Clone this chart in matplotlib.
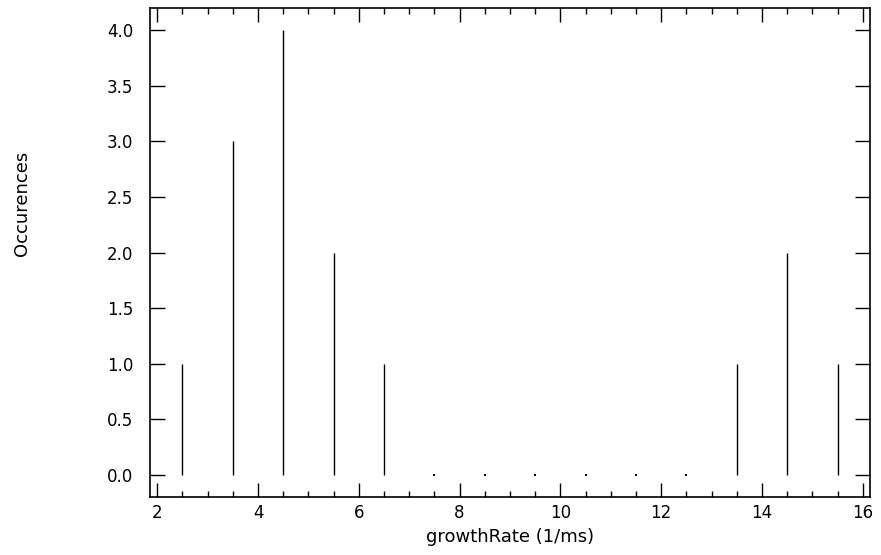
import numpy as np
import matplotlib
matplotlib.use("Agg")
import matplotlib.pyplot as plt
from matplotlib.ticker import MultipleLocator, FormatStrFormatter

# histogram of growth rates (bin centres and counts)
bin_centres = [2.5, 3.5, 4.5, 5.5, 6.5, 7.5, 8.5, 9.5, 10.5, 11.5, 12.5, 13.5, 14.5, 15.5]
counts = [1, 3, 4, 2, 1, 0, 0, 0, 0, 0, 0, 1, 2, 1]

plt.rcParams['font.family'] = ['DejaVu Sans']

fig = plt.figure(figsize=(8.81, 5.55), dpi=100)
ax = fig.add_axes([150 / 881, 58 / 555, 720 / 881, 489 / 555])

x = np.array(bin_centres)
y = np.array(counts)
ax.vlines(x, 0, y, colors='black', linewidth=1.0)
zero = y == 0
ax.plot(x[zero], y[zero], linestyle='none', marker='s', markersize=1.5,
        color='black', markeredgewidth=0)

ax.set_xlim(1.855, 16.145)
ax.set_ylim(-0.2, 4.2)

ax.xaxis.set_major_locator(MultipleLocator(2))
ax.xaxis.set_minor_locator(MultipleLocator(0.5))
ax.yaxis.set_major_locator(MultipleLocator(0.5))
ax.yaxis.set_major_formatter(FormatStrFormatter('%.1f'))

ax.tick_params(axis='x', which='major', direction='in', length=10, width=1,
               top=True, bottom=True, labelsize=12, pad=5)
ax.tick_params(axis='x', which='minor', direction='in', length=4.5, width=1,
               top=True, bottom=True)
ax.tick_params(axis='y', which='major', direction='in', length=11, width=1,
               left=True, right=True, labelsize=12, pad=12)
for s in ax.spines.values():
    s.set_linewidth(1.2)

ax.set_xlabel("growthRate (1/ms)", fontsize=13, labelpad=4)
fig.text(22 / 881, 1 - 203 / 555, "Occurences", rotation=90, fontsize=13,
         ha='center', va='center')

fig.savefig("out.png", dpi=100)
